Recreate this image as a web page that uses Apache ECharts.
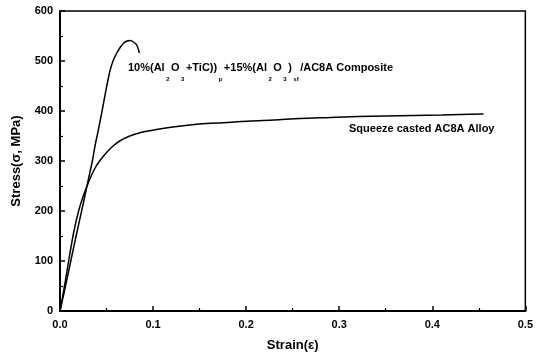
<!DOCTYPE html>
<html>
<head>
<meta charset="utf-8">
<script src="https://cdn.jsdelivr.net/npm/echarts@6/dist/echarts.min.js"></script>
<style>
  html, body { margin: 0; padding: 0; background: #fff; }
  #main { width: 536px; height: 357px; }
</style>
</head>
<body>
<div id="main"></div>
<script>
var chartDom = document.getElementById('main');
var myChart = echarts.init(chartDom);
var option;

// strain / stress pairs
const compositeStrain = [0, 0.005, 0.010, 0.015, 0.020, 0.025, 0.0287, 0.032, 0.035, 0.0376, 0.0412, 0.045, 0.048, 0.051, 0.0538, 0.057, 0.061, 0.065, 0.068, 0.072, 0.0753, 0.079, 0.0824, 0.0853];
const compositeStress = [0, 42, 86, 130, 173, 215, 248, 276, 302, 330, 362, 398, 428, 457, 481, 500, 516, 528, 535, 540, 541, 538, 532, 516];

const alloyStrain = [0, 0.005, 0.010, 0.015, 0.020, 0.025, 0.0287, 0.033, 0.038, 0.043, 0.050, 0.057, 0.065, 0.075, 0.085, 0.095, 0.11, 0.13, 0.15, 0.18, 0.204, 0.23, 0.258, 0.29, 0.32, 0.35, 0.38, 0.41, 0.43, 0.455];
const alloyStress = [0, 52, 108, 160, 200, 230, 248, 268, 287, 301, 317, 330, 341, 350, 356, 360, 365, 370, 374, 377, 380, 382, 385, 387, 389, 390, 391, 392, 393, 394];

const xTicks = ['0.0', '0.1', '0.2', '0.3', '0.4', '0.5'];

function pairs(xs, ys) {
  return xs.map(function (x, i) { return [x, ys[i]]; });
}

const font = 'Liberation Sans, Arial, sans-serif';

option = {
  backgroundColor: '#fff',
  animation: false,
  grid: {
    left: 60,
    right: 9,
    top: 11,
    bottom: 44,
    show: true,
    borderColor: '#000',
    borderWidth: 1.5
  },
  xAxis: {
    type: 'value',
    min: 0,
    max: 0.5,
    interval: 0.1,
    name: 'Strain(\u03b5)',
    nameLocation: 'middle',
    nameGap: 28,
    nameTextStyle: { color: '#000', fontSize: 13, fontWeight: 'bold', fontFamily: font },
    axisLine: { show: true, lineStyle: { color: '#000', width: 2 } },
    axisTick: { inside: true, length: 5, lineStyle: { color: '#000', width: 1.5 } },
    minorTick: { show: true, splitNumber: 2, length: 3, lineStyle: { color: '#000', width: 1.2 } },
    splitLine: { show: false },
    axisLabel: {
      color: '#000', fontSize: 11, fontWeight: 'bold', fontFamily: font, margin: 8,
      formatter: function (v) { return xTicks[Math.round(v * 10)]; }
    }
  },
  yAxis: {
    type: 'value',
    min: 0,
    max: 600,
    interval: 100,
    name: 'Stress(\u03c3, MPa)',
    nameLocation: 'middle',
    nameGap: 37,
    nameTextStyle: { color: '#000', fontSize: 13, fontWeight: 'bold', fontFamily: font },
    axisLine: { show: true, lineStyle: { color: '#000', width: 2 } },
    axisTick: { inside: true, length: 5, lineStyle: { color: '#000', width: 1.5 } },
    minorTick: { show: true, splitNumber: 2, length: 3, lineStyle: { color: '#000', width: 1.2 } },
    splitLine: { show: false },
    axisLabel: { color: '#000', fontSize: 11, fontWeight: 'bold', fontFamily: font, margin: 7 }
  },
  graphic: [
    {
      type: 'text',
      left: 128,
      top: 62,
      style: {
        text: '{n|10%(Al}{s|2}{n|O}{s|3}{n|+TiC))}{s|p}{n|+15%(Al}{s|2}{n|O}{s|3}{n|)}{s|sf}{n|/AC8A Composite}',
        rich: {
          n: { fontSize: 11, fontWeight: 'bold', fontFamily: font, fill: '#000', lineHeight: 20, verticalAlign: 'top' },
          s: { fontSize: 6, fontWeight: 'bold', fontFamily: font, fill: '#000', lineHeight: 20, verticalAlign: 'bottom', padding: [0, 1.5, 0, 1.5] }
        }
      }
    },
    {
      type: 'text',
      left: 349,
      top: 123,
      style: {
        text: 'Squeeze casted AC8A Alloy',
        fontSize: 11,
        fontWeight: 'bold',
        fontFamily: font,
        fill: '#000'
      }
    }
  ],
  series: [
    {
      name: 'Composite',
      type: 'line',
      data: pairs(compositeStrain, compositeStress),
      showSymbol: false,
      smooth: 0.3,
      lineStyle: { color: '#000', width: 1.5 }
    },
    {
      name: 'AC8A Alloy',
      type: 'line',
      data: pairs(alloyStrain, alloyStress),
      showSymbol: false,
      smooth: 0.3,
      lineStyle: { color: '#000', width: 1.5 }
    }
  ]
};

option && myChart.setOption(option);
</script>
</body>
</html>
